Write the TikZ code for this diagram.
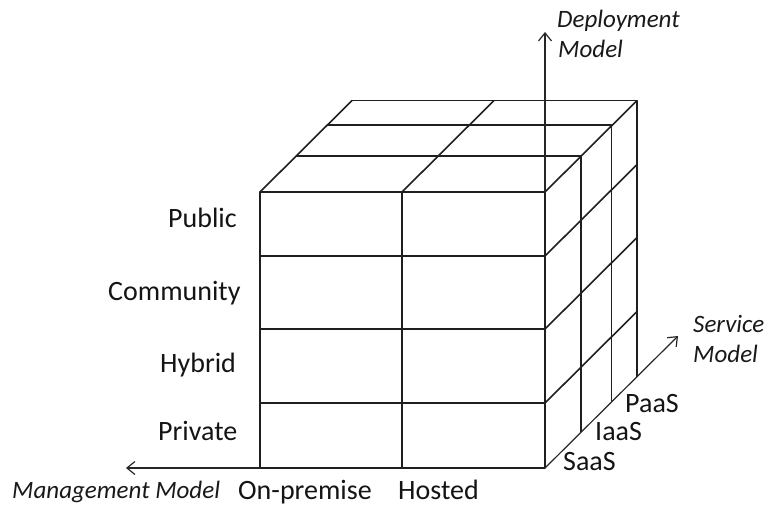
\documentclass[tikz,border=0pt]{standalone}
\usepackage{fontspec}
\setmainfont{Carlito}
\usetikzlibrary{arrows.meta}
\begin{document}
\begin{tikzpicture}[x=1pt,y=-1pt,
  grid/.style={line width=1.6pt, draw=black!88, line join=round},
  axis/.style={line width=1.2pt, draw=black!85,
    -{Straight Barb[length=8pt,width=13pt,line width=1.2pt]}},
  cat/.style={font=\fontsize{28}{30}\selectfont, text=black!92, inner sep=0pt, anchor=base west},
  axlabel/.style={font=\fontsize{25}{27}\selectfont\itshape, text=black!90, inner sep=0pt, anchor=base west}]
\useasboundingbox (0,0) rectangle (775,515);

% front face corners and grid points
\coordinate (ftl) at (260,192);
\coordinate (ftm) at (402,192);
\coordinate (ftr) at (545,192);
\coordinate (fbl) at (260,468);
\coordinate (fbm) at (402,468);
\coordinate (fbr) at (545,468);
\coordinate (fr1) at (545,256);
\coordinate (fr2) at (545,329);
\coordinate (fr3) at (545,403);
\coordinate (fl1) at (260,256);
\coordinate (fl2) at (260,329);
\coordinate (fl3) at (260,403);

% front face
\draw[grid] (ftl) rectangle (fbr);
\draw[grid] (ftm) -- (fbm);
\draw[grid] (fl1) -- (fr1);
\draw[grid] (fl2) -- (fr2);
\draw[grid] (fl3) -- (fr3);

% top and right faces: slices at each depth
\foreach \dx/\dy in {36/-36, 66.5/-67, 92/-91.5} {
  \draw[grid] ([shift={(\dx,\dy)}]ftl) -- ([shift={(\dx,\dy)}]ftr)
              -- ([shift={(\dx,\dy)}]fbr);
}
% receding edges
\foreach \p in {ftl, ftm, ftr, fr1, fr2, fr3}
  \draw[grid] (\p) -- ++(92,-91.5);

% axes
\coordinate (dtip) at (545,32);
\coordinate (mtip) at (126,468);
\coordinate (stip) at (678,336);
\draw[axis] (ftr) -- (dtip);
\draw[axis] (fbl) -- (mtip);
\draw[axis] (fbr) -- (stip);

% deployment model categories
\node[cat] (pub) at (168,227) {Public};
\node[cat] (com) at (108,300) {Community};
\node[cat] (hyb) at (160,372) {Hybrid};
\node[cat] (pri) at (158,440) {Private};

% management model categories
\node[cat] (onp) at (238,499) {On-premise};
\node[cat] (hos) at (398,499) {Hosted};

% service model categories
\node[cat] (paas) at (625,412) {PaaS};
\node[cat] (iaas) at (595,440) {IaaS};
\node[cat] (saas) at (563,470) {SaaS};

% axis titles
\node[axlabel] (mm) at (12,498) {Management Model};
\node[axlabel] (dm1) at (557,27) {Deployment};
\node[axlabel] (dm2) at (558,57) {Model};
\node[axlabel] (sm1) at (693,332) {Service};
\node[axlabel] (sm2) at (693,362) {Model};
\end{tikzpicture}
\end{document}
